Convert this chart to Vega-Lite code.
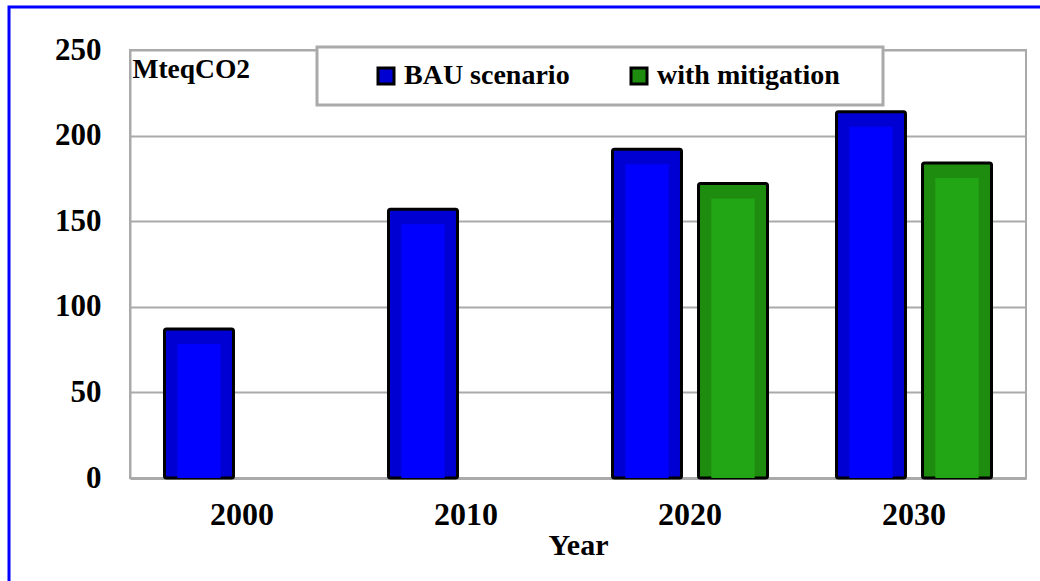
{
  "$schema": "https://vega.github.io/schema/vega-lite/v6.json",
  "width": 896,
  "height": 428,
  "autosize": "none",
  "padding": {"left": 130, "top": 50, "right": 14, "bottom": 103},
  "background": "white",
  "config": {
    "font": "Liberation Serif",
    "view": {"stroke": "#aaaaaa", "strokeWidth": 2},
    "legend": {"strokeColor": "#0000FF", "strokeWidth": 3}
  },
  "resolve": {"scale": {"xOffset": "independent"}},
  "data": {
    "values": [
      {"year": "2000", "scenario": "BAU scenario", "value": 87},
      {"year": "2010", "scenario": "BAU scenario", "value": 157},
      {"year": "2020", "scenario": "BAU scenario", "value": 192},
      {"year": "2020", "scenario": "with mitigation", "value": 172},
      {"year": "2030", "scenario": "BAU scenario", "value": 214},
      {"year": "2030", "scenario": "with mitigation", "value": 184}
    ]
  },
  "encoding": {
    "x": {
      "field": "year",
      "type": "nominal",
      "title": "Year",
      "scale": {"paddingInner": 0, "paddingOuter": 0},
      "axis": {
        "labelAngle": 0,
        "labelFontSize": 32,
        "labelFontWeight": "bold",
        "labelColor": "black",
        "labelPadding": 21,
        "ticks": false,
        "domainColor": "#aaaaaa",
        "domainWidth": 3,
        "titleFontSize": 30,
        "titleFontWeight": "bold",
        "titleColor": "black",
        "titlePadding": 0
      }
    },
    "y": {
      "field": "value",
      "type": "quantitative",
      "stack": null,
      "scale": {"domain": [0, 250], "nice": false},
      "axis": {
        "values": [0, 50, 100, 150, 200, 250],
        "labelFontSize": 31,
        "labelFontWeight": "bold",
        "labelColor": "black",
        "labelPadding": 29,
        "ticks": false,
        "domainColor": "#aaaaaa",
        "domainWidth": 2,
        "gridColor": "#aaaaaa",
        "gridWidth": 2,
        "title": "MteqCO2",
        "titleAngle": 0,
        "titleAlign": "left",
        "titleBaseline": "alphabetic",
        "titleX": 2,
        "titleY": 27,
        "titleFontSize": 27.5,
        "titleFontWeight": "bold",
        "titleColor": "black"
      }
    }
  },
  "layer": [
    {
      "mark": {"type": "bar", "stroke": "black", "strokeWidth": 3, "cornerRadius": 2},
      "encoding": {
        "xOffset": {
          "field": "scenario",
          "type": "nominal",
          "scale": {"domain": ["BAU scenario", "with mitigation"], "paddingInner": 0.198, "paddingOuter": 0.401}
        },
        "color": {
          "field": "scenario",
          "type": "nominal",
          "scale": {"domain": ["BAU scenario", "with mitigation"], "range": ["#0000D2", "#1E8C0F"]},
          "legend": {
            "orient": "none",
            "legendX": 187,
            "legendY": -3,
            "direction": "horizontal",
            "columns": 2,
            "title": "MM",
            "titleOrient": "right",
            "titleFontSize": 14,
            "titleOpacity": 0,
            "titlePadding": 1,
            "padding": 15,
            "fillColor": "white",
            "strokeColor": "#aaaaaa",
            "symbolType": "square",
            "symbolSize": 256,
            "symbolStrokeColor": "black",
            "symbolStrokeWidth": 3,
            "symbolOffset": 40,
            "labelFontSize": 28,
            "labelFontWeight": "bold",
            "labelColor": "black",
            "labelFont": "Liberation Serif",
            "labelOffset": 4,
            "labelLimit": 400,
            "columnPadding": 15
          }
        }
      }
    },
    {
      "mark": {"type": "bar", "yOffset": 15, "y2Offset": -12.5},
      "encoding": {
        "xOffset": {
          "field": "scenario",
          "type": "nominal",
          "scale": {"domain": ["BAU scenario", "with mitigation"], "paddingInner": 0.4965, "paddingOuter": 0.5506}
        },
        "fill": {
          "field": "scenario",
          "type": "nominal",
          "scale": {"domain": ["BAU scenario", "with mitigation"], "range": ["#0000FF", "#22A616"]},
          "legend": null
        },
        "strokeDash": {
          "field": "scenario",
          "type": "nominal",
          "legend": {
            "orient": "none",
            "legendX": -121,
            "legendY": -43,
            "direction": "horizontal",
            "title": "MMMMMMMMMMMMMMMMM",
            "titleOrient": "left",
            "titleFontSize": 30,
            "titleLimit": 3000,
            "titleOpacity": 0,
            "padding": 288,
            "symbolOpacity": 0,
            "labelOpacity": 0,
            "labelFontSize": 10
          }
        }
      }
    }
  ]
}
